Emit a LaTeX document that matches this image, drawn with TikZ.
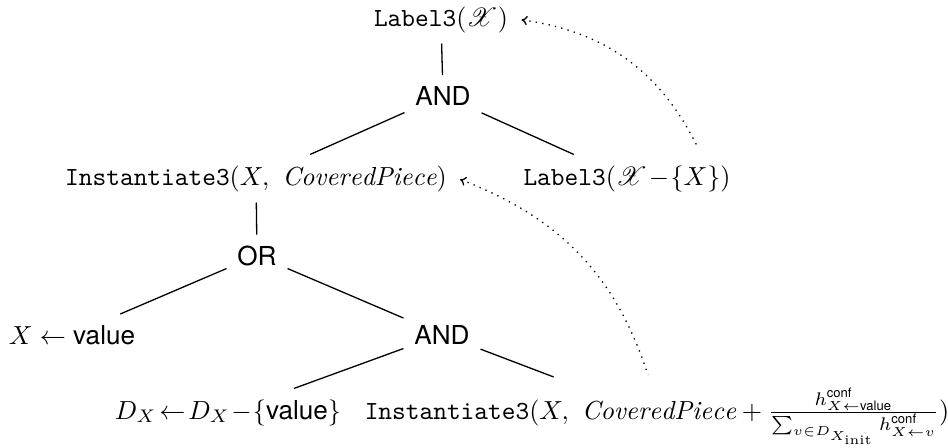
\documentclass[tikz,border=0pt]{standalone}
\usepackage{amsmath}
\usepackage{mathrsfs}
\usepackage{fontspec}
\setsansfont{TeX Gyre Heros}
\usetikzlibrary{arrows.meta}
\tikzset{
  lbl/.style={inner sep=4pt, anchor=base},
  gate/.style={font=\sffamily, inner sep=4pt, anchor=base},
  treeedge/.style={draw, line width=0.5pt},
  backref/.style={dotted, line width=0.5pt, shorten <=1pt, {To[length=2.2pt,width=3.5pt]}-}
}
\begin{document}
\begin{tikzpicture}[x=0.383pt,y=-0.383pt]
\useasboundingbox (0,0) rectangle (948,447);
\node[lbl]  (L1) at (441,26)  {\texttt{Label3}$(\mathscr{X})$};
\node[gate] (A1) at (443,105) {AND};
\node[lbl]  (I1) at (256,185) {\texttt{Instantiate3}$(X,\ \mathit{CoveredPiece})$};
\node[lbl]  (L2) at (627,185) {\texttt{Label3}$(\mathscr{X}\!-\!\{X\})$};
\node[gate] (O)  at (257,265) {OR};
\node[lbl]  (XV) at (72,344)  {$X\leftarrow\textsf{value}$};
\node[gate] (A2) at (442,344) {AND};
\node[lbl]  (D)  at (228,419) {$D_X\!\leftarrow\!D_X\!-\!\{\textsf{value}\}$};
\node[lbl]  (I2) at (657,419) {\texttt{Instantiate3}$(X,\ \mathit{CoveredPiece}+\frac{h^{\textsf{conf}}_{X\leftarrow\textsf{value}}}{\sum_{v\in D_{X_{\mathrm{init}}}} h^{\textsf{conf}}_{X\leftarrow v}})$};
\draw[treeedge] (L1) -- (A1);
\draw[treeedge] (A1) -- (I1);
\draw[treeedge] (A1) -- (L2);
\draw[treeedge] (I1) -- (O);
\draw[treeedge] (O) -- (XV);
\draw[treeedge] (O) -- (A2);
\draw[treeedge] (A2) -- (D);
\draw[treeedge] (A2) -- (I2);
\coordinate (s1) at (698,148);
\coordinate (s2) at (648,375);
\draw[backref] (L1.east) to[out=-8,in=116] (s1);
\draw[backref] (I1.east) to[out=-21,in=108] (s2);
\end{tikzpicture}
\end{document}
